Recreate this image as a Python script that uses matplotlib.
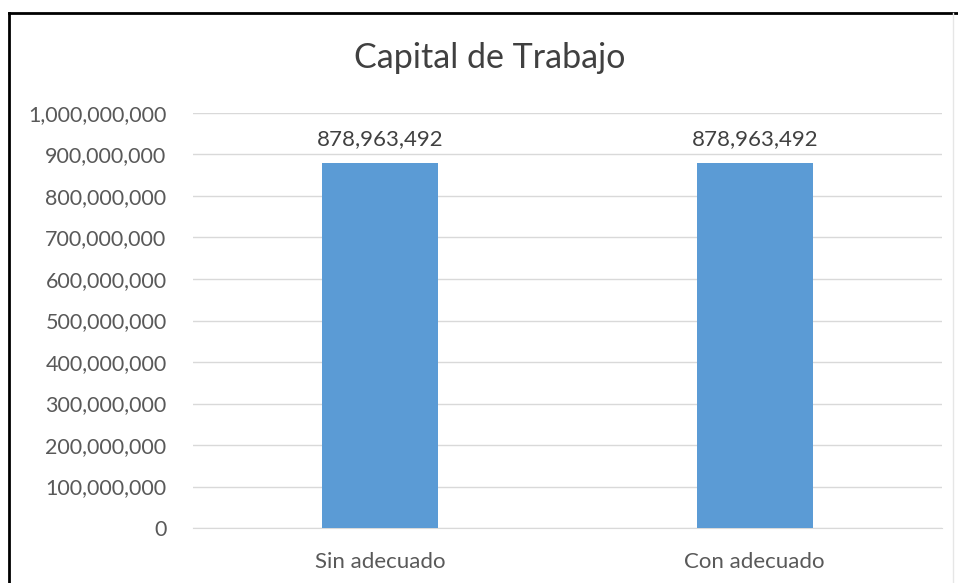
import matplotlib
matplotlib.use('Agg')
import matplotlib.pyplot as plt
from matplotlib.lines import Line2D
from matplotlib.ticker import FuncFormatter

categories = ['Sin adecuado', 'Con adecuado']
values = [878963492, 878963492]
yticks = [0, 100000000, 200000000, 300000000, 400000000, 500000000,
          600000000, 700000000, 800000000, 900000000, 1000000000]
title = 'Capital de Trabajo'

plt.rcParams['font.family'] = ['Lato', 'DejaVu Sans']

W, H = 958, 583
fig = plt.figure(figsize=(W / 100, H / 100), dpi=100)
fig.patch.set_facecolor('white')

# axes placed to match the plot area of the original
ax = fig.add_axes([193 / W, 1 - 528 / H, (942 - 193) / W, (528 - 113) / H])

x = list(range(len(categories)))
ax.bar(x, values, width=0.31, color='#5B9BD5', zorder=3)
for xi, v in zip(x, values):
    ax.text(xi, v + 34000000, '{:,}'.format(v), ha='center', va='bottom',
            fontsize=16, color='#404040')

ax.set_xlim(-0.5, 1.5)
ax.set_ylim(0, 1000000000)
ax.set_yticks(yticks)
ax.yaxis.set_major_formatter(FuncFormatter(lambda v, p: '{:,}'.format(int(v))))
ax.set_xticks(x)
ax.set_xticklabels(categories)
ax.tick_params(axis='both', length=0, labelsize=15.5, colors='#595959')
ax.tick_params(axis='x', labelsize=16, pad=17)
ax.tick_params(axis='y', pad=19)
ax.grid(axis='y', color='#D9D9D9', linewidth=1, zorder=0)
for s in ['top', 'right', 'left']:
    ax.spines[s].set_visible(False)
ax.spines['bottom'].set_color('#D9D9D9')

fig.text(490 / W, 1 - 58 / H, title, ha='center', va='center',
         fontsize=24.5, color='#404040')

# chart frame
fig.add_artist(Line2D([9 / W, 9 / W], [0, 1 - 13 / H], color='black', lw=2,
                      transform=fig.transFigure))
fig.add_artist(Line2D([9 / W, 1], [1 - 13 / H, 1 - 13 / H], color='black', lw=2,
                      transform=fig.transFigure))
fig.add_artist(Line2D([953 / W, 953 / W], [0, 1 - 13 / H], color='#E6E6E6', lw=1,
                      transform=fig.transFigure))

fig.savefig('out.png', dpi=100)
